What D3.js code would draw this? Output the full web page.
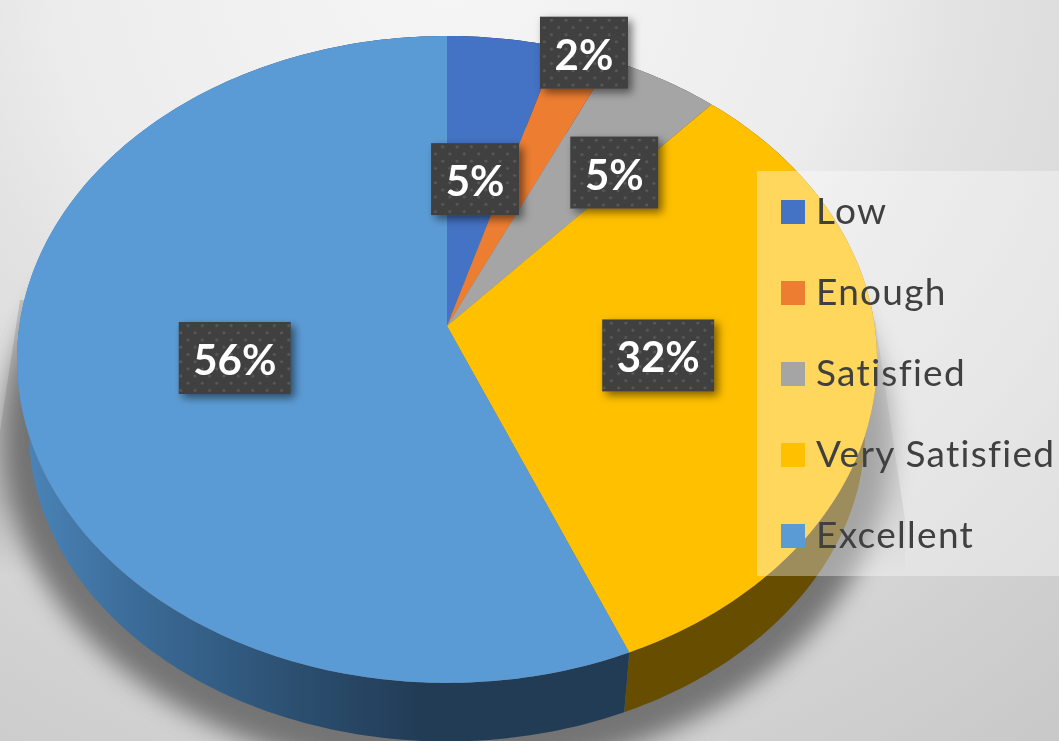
<!DOCTYPE html>
<html>
<head>
<meta charset="utf-8">
<style>
html, body { margin: 0; padding: 0; overflow: hidden; }
svg { display: block; }
text { font-family: Lato, "Open Sans", sans-serif; }
</style>
<script src="https://cdn.jsdelivr.net/npm/d3@7"></script>
</head>
<body>
<div id="chart"></div>
<script>
var categories = ["Low", "Enough", "Satisfied", "Very Satisfied", "Excellent"];
var shares = [4.6, 2.3, 4.7, 32.1, 56.3];
var colors = ["#4472c4", "#ed7d31", "#a5a5a5", "#ffc000", "#5b9bd5"];

var width = 1059, height = 741;

// tilted disc: apex of the slices sits above the middle of the ellipse
var apex = [447, 326];
var radiusX = 427.7, radiusY = 320, tilt = 0.1034;
var top_ell = { cx: 447, cy: 360, rx: 430, ry: 323.5 };
var bot_ell = { cx: 447, cy: 432, rx: 418, ry: 310 };

// pixel nudge of each data label from its slice centre
var labelNudge = [[-4, 18], [58, -117], [44, -13], [-23, 0], [21, -3]];

var project = function project(angle, r) {
    var x = r * Math.sin(angle), y = -r * Math.cos(angle);
    var w = 1 + tilt * r * Math.cos(angle);
    return [apex[0] + radiusX * x / w, apex[1] + radiusY * y / w];
}

// same rim point moved down to the underside of the disc
var lower = function lower(p) {
    return [bot_ell.cx + bot_ell.rx * (p[0] - top_ell.cx) / top_ell.rx,
            bot_ell.cy + bot_ell.ry * (p[1] - top_ell.cy) / top_ell.ry];
}

var rim = function rim(a0, a1) {
    var n = Math.max(2, Math.ceil((a1 - a0) * 60));
    return d3.range(n + 1).map(function(i) {
        return project(a0 + (a1 - a0) * i / n, 1);
    });
}

var line = d3.line();
var color = d3.scaleOrdinal().domain(categories).range(colors);
var pieData = d3.pie().sort(null)(shares);

var svg = d3.select("#chart").append("svg")
    .attr("width", width)
    .attr("height", height);

var defs = svg.append("defs");

// page background, brightest above the pie and darkening outwards
var bg = defs.append("radialGradient").attr("id", "bg")
    .attr("gradientUnits", "userSpaceOnUse")
    .attr("cx", 450).attr("cy", -50).attr("r", 1000);
bg.append("stop").attr("offset", 0).attr("stop-color", "#f6f6f6");
bg.append("stop").attr("offset", 0.4).attr("stop-color", "#ececec");
bg.append("stop").attr("offset", 0.52).attr("stop-color", "#e2e2e2");
bg.append("stop").attr("offset", 0.65).attr("stop-color", "#dcdcdc");
bg.append("stop").attr("offset", 0.8).attr("stop-color", "#d2d2d2");
bg.append("stop").attr("offset", 1).attr("stop-color", "#c8c8c8");

var wall = defs.append("linearGradient").attr("id", "wallBlue")
    .attr("gradientUnits", "userSpaceOnUse")
    .attr("x1", 25).attr("y1", 0).attr("x2", 420).attr("y2", 0);
wall.append("stop").attr("offset", 0).attr("stop-color", "#4b84b8");
wall.append("stop").attr("offset", 0.3).attr("stop-color", "#3a6a96");
wall.append("stop").attr("offset", 0.7).attr("stop-color", "#2b4e6f");
wall.append("stop").attr("offset", 1).attr("stop-color", "#223c56");

var fade = defs.append("linearGradient").attr("id", "wedgeFade")
    .attr("gradientUnits", "userSpaceOnUse")
    .attr("x1", 0).attr("y1", 300).attr("x2", 0).attr("y2", 575);
fade.append("stop").attr("offset", 0).attr("stop-color", "#888").attr("stop-opacity", 0.35);
fade.append("stop").attr("offset", 0.72).attr("stop-color", "#888").attr("stop-opacity", 0.35);
fade.append("stop").attr("offset", 1).attr("stop-color", "#888").attr("stop-opacity", 0);

var blur = defs.append("filter").attr("id", "blur")
    .attr("x", "-10%").attr("y", "-10%").attr("width", "120%").attr("height", "120%");
blur.append("feGaussianBlur").attr("stdDeviation", 12);

var soft = defs.append("filter").attr("id", "soft");
soft.append("feGaussianBlur").attr("stdDeviation", 0.6);

var drop = defs.append("filter").attr("id", "drop")
    .attr("x", "-30%").attr("y", "-30%").attr("width", "160%").attr("height", "160%");
drop.append("feDropShadow").attr("dx", 4).attr("dy", 4)
    .attr("stdDeviation", 4).attr("flood-color", "#000").attr("flood-opacity", 0.5);

var dots = defs.append("pattern").attr("id", "dots")
    .attr("patternUnits", "userSpaceOnUse")
    .attr("width", 14.4).attr("height", 14.4);
dots.append("rect").attr("width", 14.4).attr("height", 14.4).attr("fill", "#404040");
dots.append("circle").attr("cx", 3.6).attr("cy", 3.6).attr("r", 1.5).attr("fill", "#5a5a5a");
dots.append("circle").attr("cx", 10.8).attr("cy", 10.8).attr("r", 1.5).attr("fill", "#5a5a5a");

svg.append("rect").attr("width", width).attr("height", height).attr("fill", "url(#bg)");

// shadow under the disc: hard edged wedge at the sides, soft band below
svg.append("path")
    .attr("d", line([[20, 300], [-6, 470], [-6, 575], [905, 575], [905, 520], [875, 320]]) + "Z")
    .attr("fill", "url(#wedgeFade)");

svg.append("ellipse")
    .attr("cx", bot_ell.cx).attr("cy", bot_ell.cy + 8)
    .attr("rx", bot_ell.rx + 26).attr("ry", bot_ell.ry + 26)
    .attr("fill", "#6a6a6a")
    .attr("opacity", 0.9)
    .attr("filter", "url(#blur)");

// side wall, only blue and yellow ever show below the rim
svg.selectAll("path.wall")
    .data(pieData)
    .enter().append("path")
    .attr("class", "wall")
    .attr("d", function(d) {
        var upper = rim(d.startAngle, d.endAngle);
        var under = upper.map(lower).reverse();
        return line(upper.concat(under)) + "Z";
    })
    .attr("fill", function(d, i) {
        if (categories[i] == "Excellent") return "url(#wallBlue)";
        return d3.color(colors[i]).darker(2.57).formatHex();
    });

// top face
svg.selectAll("path.slice")
    .data(pieData)
    .enter().append("path")
    .attr("class", "slice")
    .attr("d", function(d) {
        return line([apex].concat(rim(d.startAngle, d.endAngle))) + "Z";
    })
    .attr("fill", function(d, i) { return color(categories[i]); });

// legend sits on a translucent panel over the pie
svg.append("rect")
    .attr("x", 757).attr("y", 171)
    .attr("width", width - 757).attr("height", 405)
    .attr("fill", "#fff").attr("opacity", 0.36);

var legendY = d3.scalePoint().domain(categories).range([212, 536]);

var legend = svg.selectAll("g.legend")
    .data(categories)
    .enter().append("g")
    .attr("class", "legend")
    .attr("transform", function(d) { return "translate(781," + legendY(d) + ")"; });

legend.append("rect")
    .attr("y", -12).attr("width", 24).attr("height", 24)
    .attr("fill", function(d) { return color(d); });

legend.append("text")
    .attr("x", 35).attr("y", 12)
    .attr("font-size", 37)
    .attr("letter-spacing", 1.3)
    .attr("fill", "#404040")
    .attr("filter", "url(#soft)")
    .text(function(d) { return d; });

// data labels
var label = svg.selectAll("g.label")
    .data(pieData)
    .enter().append("g")
    .attr("class", "label")
    .attr("transform", function(d, i) {
        var p = project((d.startAngle + d.endAngle) / 2, 0.55);
        return "translate(" + (p[0] + labelNudge[i][0]) + "," + (p[1] + labelNudge[i][1]) + ")";
    });

var boxWidth = function boxWidth(d) { return d.data >= 9.5 ? 112 : 88; };

label.append("rect")
    .attr("x", function(d) { return -boxWidth(d) / 2; })
    .attr("y", -36)
    .attr("width", boxWidth)
    .attr("height", 72)
    .attr("fill", "url(#dots)")
    .attr("filter", "url(#drop)");

label.append("text")
    .attr("text-anchor", "middle")
    .attr("y", 17)
    .attr("font-size", 42)
    .attr("font-weight", 700)
    .attr("fill", "#fff")
    .attr("filter", "url(#soft)")
    .text(function(d) { return Math.round(d.data) + "%"; });
</script>
</body>
</html>
